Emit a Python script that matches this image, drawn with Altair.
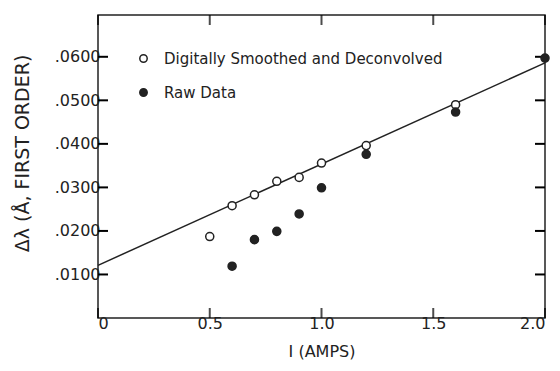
import altair as alt
import pandas as pd

# ---- data ----
current_smoothed = [0.5, 0.6, 0.7, 0.8, 0.9, 1.0, 1.2, 1.6]
delta_smoothed = [0.0187, 0.0258, 0.0283, 0.0314, 0.0323, 0.0356, 0.0396, 0.0490]
current_raw = [0.6, 0.7, 0.8, 0.9, 1.0, 1.2, 1.6, 2.0]
delta_raw = [0.0119, 0.0180, 0.0199, 0.0239, 0.0299, 0.0376, 0.0473, 0.0597]
fit_current = [0.0, 2.0]
fit_delta = [0.0121, 0.0586]
series_names = ["Digitally Smoothed and Deconvolved", "Raw Data"]
x_ticks = [0, 0.5, 1.0, 1.5, 2.0]
y_ticks = [0.01, 0.02, 0.03, 0.04, 0.05, 0.06]

W, H = 447, 303
TICK = 10
INK = "#222222"
FONT = "DejaVu Sans"

df_s = pd.DataFrame({"I": current_smoothed, "d": delta_smoothed, "series": series_names[0]})
df_r = pd.DataFrame({"I": current_raw, "d": delta_raw, "series": series_names[1]})
df_fit = pd.DataFrame({"I": fit_current, "d": fit_delta})
df_xt = pd.DataFrame({"I": x_ticks})
df_yt = pd.DataFrame({"d": y_ticks})

xscale = alt.Scale(domain=[0, 2.0], nice=False, zero=False)
yscale = alt.Scale(domain=[0, 0.0696], nice=False, zero=False)

fill_scale = alt.Scale(domain=series_names, range=["white", INK])
legend = alt.Legend(
    title=None, orient="none", legendX=38, legendY=36,
    symbolType="circle", symbolSize=55, symbolStrokeColor=INK, symbolStrokeWidth=1.5,
    labelFontSize=15, labelFont=FONT, labelColor=INK, labelOffset=13, labelLimit=0,
    rowPadding=18,
)

# line layer carries the labelled axes (their own ticks are hidden)
line = alt.Chart(df_fit).mark_line(color=INK, strokeWidth=1.5).encode(
    x=alt.X("I:Q", scale=xscale, axis=alt.Axis(
        orient="bottom", values=x_ticks, ticks=True, tickSize={"expr": "-10"},
        tickColor="transparent", tickWidth=1.5, domain=False, grid=False,
        labelExpr="datum.value == 0 ? '0' : format(datum.value, '.1f')",
        labelPadding=7, labelFontSize=16, labelFont=FONT, labelColor=INK,
        title="I (AMPS)", titleFontSize=16, titleFont=FONT, titleFontWeight="normal",
        titleColor=INK, titlePadding=12)),
    y=alt.Y("d:Q", scale=yscale, axis=alt.Axis(
        orient="left", values=y_ticks, ticks=True, tickSize={"expr": "-10"},
        tickColor="transparent", tickWidth=1.5, domain=False, grid=False,
        labelExpr="substring(format(datum.value, '.4f'), 1)",
        labelPadding=8, labelFontSize=16, labelFont=FONT, labelColor=INK,
        title="Δλ (Å, FIRST ORDER)", titleFontSize=19, titleFont=FONT,
        titleFontWeight="normal", titleColor=INK,
        titleAngle=270, titleX=-66, titleY=138, titleAlign="center", titleBaseline="bottom")),
)

# inward tick marks on all four sides, placed by the same scales
rule_style = dict(color="black", strokeWidth=2)
ticks_left = alt.Chart(df_yt).mark_rule(**rule_style).encode(
    y=alt.Y("d:Q", scale=yscale), x=alt.value(0), x2=alt.value(TICK))
ticks_right = alt.Chart(df_yt).mark_rule(**rule_style).encode(
    y=alt.Y("d:Q", scale=yscale), x=alt.value(W - TICK), x2=alt.value(W))
ticks_top = alt.Chart(df_xt).mark_tick(
    orient="vertical", size=TICK, thickness=2, color="black", yOffset=TICK / 2
).encode(x=alt.X("I:Q", scale=xscale), y=alt.value(0))
ticks_bottom = alt.Chart(df_xt).mark_tick(
    orient="vertical", size=TICK, thickness=2, color="black", yOffset=-TICK / 2
).encode(x=alt.X("I:Q", scale=xscale), y=alt.value(H))

open_pts = alt.Chart(df_s).mark_point(
    shape="circle", filled=True, stroke=INK, strokeWidth=1.5, size=65, opacity=1
).encode(
    x=alt.X("I:Q", scale=xscale),
    y=alt.Y("d:Q", scale=yscale),
    fill=alt.Fill("series:N", scale=fill_scale, legend=legend),
)

raw_pts = alt.Chart(df_r).mark_point(
    shape="circle", filled=True, stroke=INK, strokeWidth=1.5, size=65, opacity=1
).encode(
    x=alt.X("I:Q", scale=xscale),
    y=alt.Y("d:Q", scale=yscale),
    fill=alt.Fill("series:N", scale=fill_scale, legend=legend),
)

chart = alt.layer(
    line, ticks_left, ticks_right, ticks_top, ticks_bottom, open_pts, raw_pts
).properties(
    width=W, height=H,
    autosize=alt.AutoSizeParams(type="none"),
    padding={"left": 98, "top": 15, "right": 15, "bottom": 53},
    background="white",
).configure_view(stroke=INK, strokeWidth=1.5)

chart.save("out.html", embed_options={"renderer": "svg", "actions": False})
